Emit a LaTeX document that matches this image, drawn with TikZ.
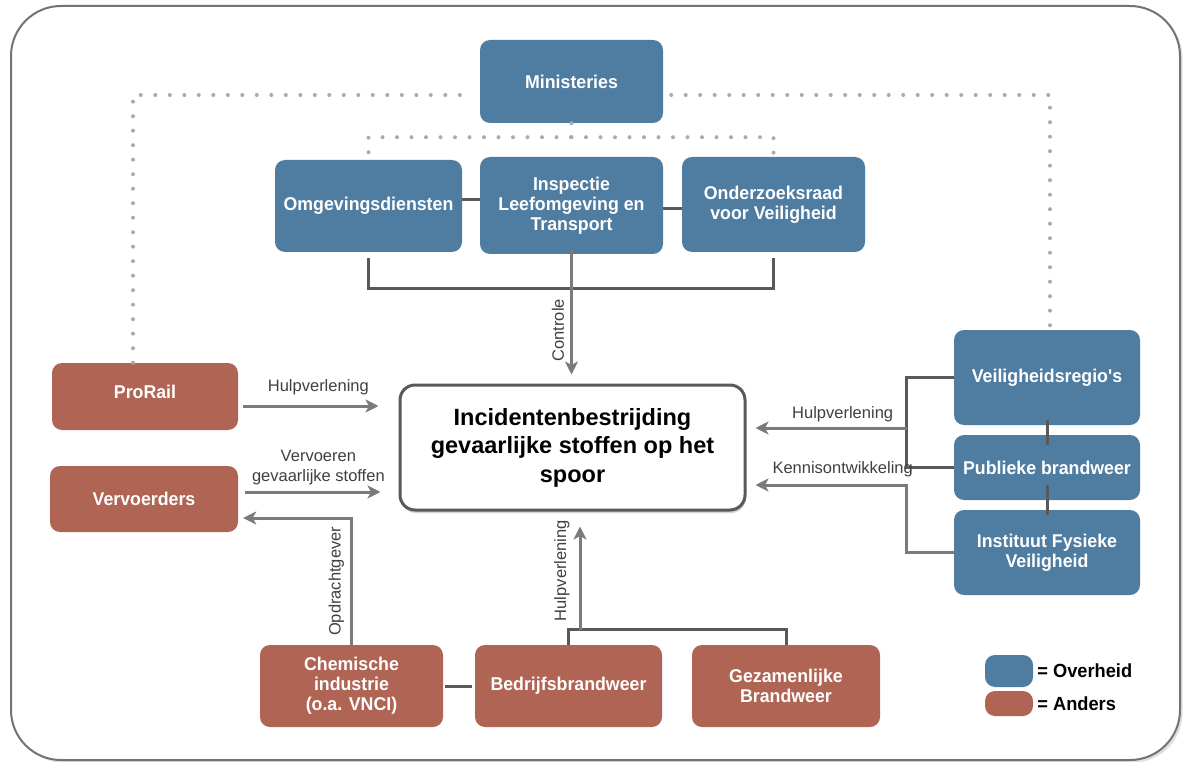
\documentclass[tikz,border=0pt]{standalone}
\usepackage{fontspec}
\setmainfont{Liberation Sans}
\newfontfamily\boxfont{Liberation Sans}[FakeStretch=0.96]
\usetikzlibrary{arrows.meta,shadows}
\definecolor{overheid}{HTML}{4F7CA1}
\definecolor{anders}{HTML}{B06454}
\definecolor{linkgray}{HTML}{595959}
\definecolor{arrowgray}{HTML}{7B7B7B}
\definecolor{dotgray}{HTML}{ABABAB}
\tikzset{
  orgbox/.style={rounded corners=10pt, text=white, align=center, inner sep=2pt,
    font=\boxfont\bfseries\fontsize{18.5}{20}\selectfont},
  govbox/.style={orgbox, fill=overheid},
  otherbox/.style={orgbox, fill=anders},
  link/.style={draw=linkgray, line width=3pt},
  flow/.style={draw=arrowgray, line width=3pt, -{Stealth[length=13pt,width=13pt,inset=3.5pt]}},
  dotline/.style={draw=dotgray, line width=4pt, line cap=round, dash pattern=on 0pt off 14.5pt},
  flowlabel/.style={text=black!75, font=\fontsize{16.5}{20}\selectfont, align=center},
}

\begin{document}
\begin{tikzpicture}[x=1pt, y=-1pt]
    \useasboundingbox (0,0) rectangle (1184,762);
    \draw[draw=black!55, line width=2pt, rounded corners=50pt, fill=white, drop shadow={opacity=.25}] (11,6) rectangle (1180,760);
    % overheid
    \node[govbox, minimum width=183pt, minimum height=83pt] (mini) at (571.5,81.5) {Ministeries};
    \node[govbox, minimum width=187pt, minimum height=92pt] (omg) at (368.5,206) {Omgevingsdiensten};
    \node[govbox, minimum width=183pt, minimum height=97pt] (ilt) at (571.5,205.5) {Inspectie\\Leefomgeving en\\Transport};
    \node[govbox, minimum width=183pt, minimum height=95pt] (ond) at (773.5,204.5) {Onderzoeksraad\\voor Veiligheid};
    \node[govbox, minimum width=186pt, minimum height=95pt] (vr) at (1047,377.5) {Veiligheidsregio's};
    \node[govbox, minimum width=186pt, minimum height=65pt] (pb) at (1047,467.5) {Publieke brandweer};
    \node[govbox, minimum width=186pt, minimum height=85pt] (ifv) at (1047,552.5) {Instituut Fysieke\\Veiligheid};
    % anders
    \node[otherbox, minimum width=186pt, minimum height=67pt] (prorail) at (145,396.5) {\raisebox{9pt}{ProRail}};
    \node[otherbox, minimum width=188pt, minimum height=66pt] (vervoer) at (144,499) {Vervoerders};
    \node[otherbox, minimum width=183pt, minimum height=82pt] (chem) at (351.5,686) {Chemische\\industrie\\(o.a. VNCI)};
    \node[otherbox, minimum width=187pt, minimum height=82pt] (bedr) at (568.5,686) {Bedrijfsbrandweer};
    \node[otherbox, minimum width=188pt, minimum height=82pt] (gez) at (786,686) {Gezamenlijke\\Brandweer};
    % midden
    \node[draw=linkgray, line width=3pt, rounded corners=15pt, fill=white,
        drop shadow={opacity=.35, shadow xshift=1pt, shadow yshift=-3pt},
        minimum width=345pt, minimum height=125pt, align=center,
        font=\bfseries\fontsize{23.5}{28.5}\selectfont] (inc) at (572.5,447.5)
        {Incidentenbestrijding\\gevaarlijke stoffen op het\\spoor};
    % legenda
    \node[govbox, minimum width=48pt, minimum height=32pt] (legblue) at (1009,671) {};
    \node[otherbox, minimum width=48pt, minimum height=25pt] (legred) at (1009,703.5) {};
    \node[anchor=west, inner sep=4pt, font=\boxfont\bfseries\fontsize{19}{20}\selectfont] (legblue-txt) at (legblue.east) {= Overheid};
    \node[anchor=west, inner sep=4pt, font=\boxfont\bfseries\fontsize{19}{20}\selectfont] (legred-txt) at (legred.east) {= Anders};

    \draw[dotline] ([yshift=-13.5pt]mini.west) ++(-20,0) -| ([xshift=-12pt]prorail.north);
    \draw[dotline] ([yshift=-13.5pt]mini.east) ++(8,0) -| ([xshift=3pt]vr.north);
    \draw[dotline] (mini.south) -- ++(0,14) -| (omg.north);
    \draw[dotline] (mini.south) ++(0,14) -| (ond.north);

    \draw[link] ([yshift=6pt]omg.east) -- ([yshift=6pt]omg.east -| ilt.west);
    \draw[link] ([yshift=-3pt]ilt.east) -- ([yshift=-3pt]ilt.east -| ond.west);
    \draw[link] ([yshift=-6pt]omg.south) -- ++(0,30) -| ([yshift=-6pt]ond.south);
    \draw[flow, shorten >=9pt] ([yshift=4pt]ilt.south) -- (ilt.south |- inc.north)
        node[flowlabel, pos=.6, rotate=90, anchor=south, inner sep=6pt] {Controle};

    \draw[flow, shorten <=5pt, shorten >=20pt] ([yshift=-9.5pt]prorail.east) -- ([yshift=-9.5pt]prorail.east -| inc.west)
        node[flowlabel, midway, above=6pt] {Hulpverlening};
    \draw[flow, shorten <=7pt, shorten >=18pt] ([yshift=7pt]vervoer.east) -- ([yshift=7pt]vervoer.east -| inc.west)
        node[flowlabel, midway, above=2pt] {Vervoeren\\gevaarlijke stoffen};
    \draw[flow, shorten >=5pt] (chem.north) |- ([yshift=-19pt]vervoer.east)
        node[flowlabel, pos=.25, rotate=90, anchor=south, inner sep=6pt] {Opdrachtgever};

    \draw[link, shorten <=2pt, shorten >=3pt] (chem.east) -- (bedr.west);
    \draw[link] (bedr.north) -- ++(0,-15) -| (gez.north);
    \draw[flow, shorten >=15pt] ([xshift=11.5pt, yshift=15pt]bedr.north) -- ([xshift=11.5pt]bedr.north |- inc.south)
        node[flowlabel, pos=.5, rotate=90, anchor=south, inner sep=9pt] {Hulpverlening};

    \draw[link] (vr.west) -- ++(-47,0) |- (pb.west);
    \draw[flow, shorten >=9pt] ([xshift=-47pt, yshift=19.5pt]vr.west |- inc.east) -- ([yshift=19.5pt]inc.east)
        node[flowlabel, pos=.4, above=1pt] {Hulpverlening};
    \draw[flow, shorten >=9pt] (ifv.west) -- ++(-47,0) |- ([yshift=-37.5pt]inc.east)
        node[flowlabel, pos=.7, above=3pt] {Kennisontwikkeling};
    \draw[link] ([yshift=5pt]vr.south) -- ([yshift=-10pt]pb.north);
    \draw[link] ([yshift=15pt]pb.south) -- ([yshift=-5pt]ifv.north);
\end{tikzpicture}
\end{document}
